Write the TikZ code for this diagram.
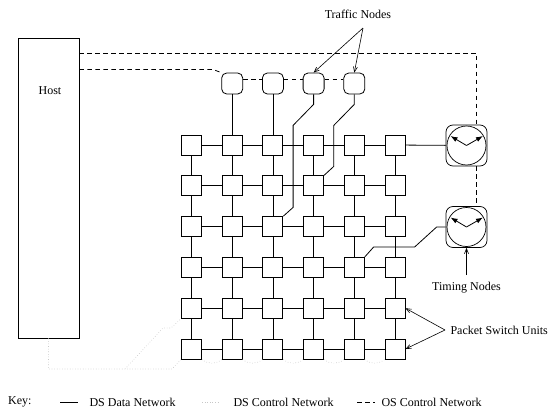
\documentclass[tikz,border=0pt]{standalone}
\usepackage{fontspec}
\setmainfont{Liberation Serif}
\usetikzlibrary{arrows.meta}

\begin{document}
\begin{tikzpicture}[
        x=1pt, y=-1pt,
        font=\fontsize{12}{14}\selectfont,
        psu/.style={
            draw, line width=0.9pt, fill=white,
            minimum size=20pt, inner sep=0pt
        },
        traffic/.style={
            draw, line width=0.8pt, fill=white, rounded corners=5pt,
            minimum size=21pt, inner sep=0pt
        },
        timing/.style={
            draw, line width=0.7pt, rounded corners=7pt,
            minimum size=41pt, inner sep=0pt
        },
        dial/.style={draw, circle, line width=0.7pt, minimum size=39pt, inner sep=0pt},
        data/.style={line width=0.8pt},
        dsctl/.style={black!22, dotted, line width=0.6pt},
        osctl/.style={dash pattern=on 4.5pt off 3.5pt, line width=0.8pt},
        hand/.style={line width=0.8pt, -{Latex[length=7pt,width=5pt]}},
        pointer/.style={line width=0.6pt, -{Straight Barb[length=5pt,width=4pt]}}
    ]
    \useasboundingbox (0,0) rectangle (550,410);

    % --- Host ---
    \node[draw, line width=0.8pt, minimum width=61pt, minimum height=300pt] (host) at (48.5,188) {};
    \node (hostl) at (50,91) {Host};

    % --- Packet switch units, 6 x 6 ---
    \foreach \i in {1,...,6}
        \foreach \j in {1,...,6}
            \node[psu] (p-\i-\j) at ({150.8+40.7*\i},{104.2+40.8*\j}) {};
    \foreach \i/\k in {1/2,2/3,3/4,4/5,5/6}
        \foreach \j in {1,...,6} {
            \draw[data] (p-\i-\j) -- (p-\k-\j);
            \draw[data] (p-\j-\i) -- (p-\j-\k);
        }

    % --- Traffic nodes ---
    \node[traffic] (tf1) at (p-2-1 |- 0,83.5) {};
    \node[traffic] (tf2) at (p-3-1 |- 0,83.5) {};
    \node[traffic] (tf3) at (p-4-1 |- 0,83.5) {};
    \node[traffic] (tf4) at (p-5-1 |- 0,83.5) {};
    \draw[data] (tf1) -- (p-2-1);
    \draw[data] (tf2) -- (p-3-1);
    \draw[data] (tf3.south) -- ++(0,10) -- ++(-20.5,21) -- ++(0,82) -- (p-3-3.north east);
    \draw[data] (tf4.south) -- ++(0,10) -- ++(-20.5,21) -- ++(0,41) -- (p-4-2.north east);

    % --- Timing nodes ---
    \node[timing] (tn1) at (466.5,145.5) {};
    \node[timing] (tn2) at (466.5,227) {};
    \node[dial] (d1) at (tn1) {};
    \node[dial] (d2) at (tn2) {};
    \foreach \t in {tn1,tn2} {
        \draw[hand] (\t.center) -- ++(-16,-9.5);
        \draw[hand] (\t.center) -- ++(16.5,-9.5);
    }
    \draw[data] (p-6-1) -- (tn1);
    \draw[data] (tn2.west) -- ++(-9,0) -- ++(-22,20) -- ++(-41,0) -- (p-5-4.north east);

    % --- OS control network ---
    \coordinate (osc) at (476.7,53);
    \coordinate (ost) at (213,69.5);
    \draw[osctl] (host.east |- osc) -- (osc) -- (osc |- tn1.north);
    \draw[osctl] (osc |- tn1.south) -- (osc |- tn2.north);
    \draw[osctl] (host.east |- ost) -- (ost) -- (tf1.north west);
    \draw[osctl] ([yshift=4pt]tf1.east) -- ([yshift=4pt]tf2.west);
    \draw[osctl] ([yshift=4pt]tf2.east) -- ([yshift=4pt]tf3.west);
    \draw[osctl] ([yshift=4pt]tf3.east) -- ([yshift=4pt]tf4.west);

    % --- DS control network ---
    \coordinate (dsa) at (48.5,369);
    \coordinate (dsb) at (125,369);
    \coordinate (dsc) at (172,369);
    \coordinate (dsd) at (163,328);
    \coordinate (dse) at (171,328);
    \draw[dsctl] (host.south) -- (dsa) -- (dsc) -- (p-1-6.south west);
    \draw[dsctl] (dsb) -- (dsd) -- (dse) -- (p-1-5.south west);
    \foreach \i/\k in {1/2,2/3,3/4,4/5,5/6}
        \draw[dsctl] (p-\i-6.south east) to[bend right=40] (p-\k-6.south west);

    % --- Labels ---
    \node (tfl) at (358,14) {Traffic Nodes};
    \coordinate (tfa) at (363,28);
    \draw[pointer] (tfa) -- (tf3.north);
    \draw[pointer] (tfa) -- (tf4.north);

    \node (tnl) at (466.5,288) {Timing Nodes};
    \draw[pointer] ([yshift=4pt]tnl.north) -- (tn2.south);

    \node[anchor=west] (psl) at (447,330) {Packet Switch Units};
    \draw[pointer] ([xshift=-2pt]psl.west) -- (p-6-5.east);
    \draw[pointer] ([xshift=-2pt]psl.west) -- (p-6-6.east);

    % --- Key ---
    \node[anchor=west] (key) at (4.7,402) {Key:};
    \node[anchor=west] (kdata) at (86,402) {DS Data Network};
    \node[anchor=west] (kdsc) at (230,402) {DS Control Network};
    \node[anchor=west] (kosc) at (378,402) {OS Control Network};
    \draw[data] ([xshift=-26pt]kdata.west) -- ([xshift=-8pt]kdata.west);
    \draw[dsctl] ([xshift=-28pt]kdsc.west) -- ([xshift=-12pt]kdsc.west);
    \draw[osctl] ([xshift=-21pt]kosc.west) -- ([xshift=-3pt]kosc.west);

\end{tikzpicture}
\end{document}
